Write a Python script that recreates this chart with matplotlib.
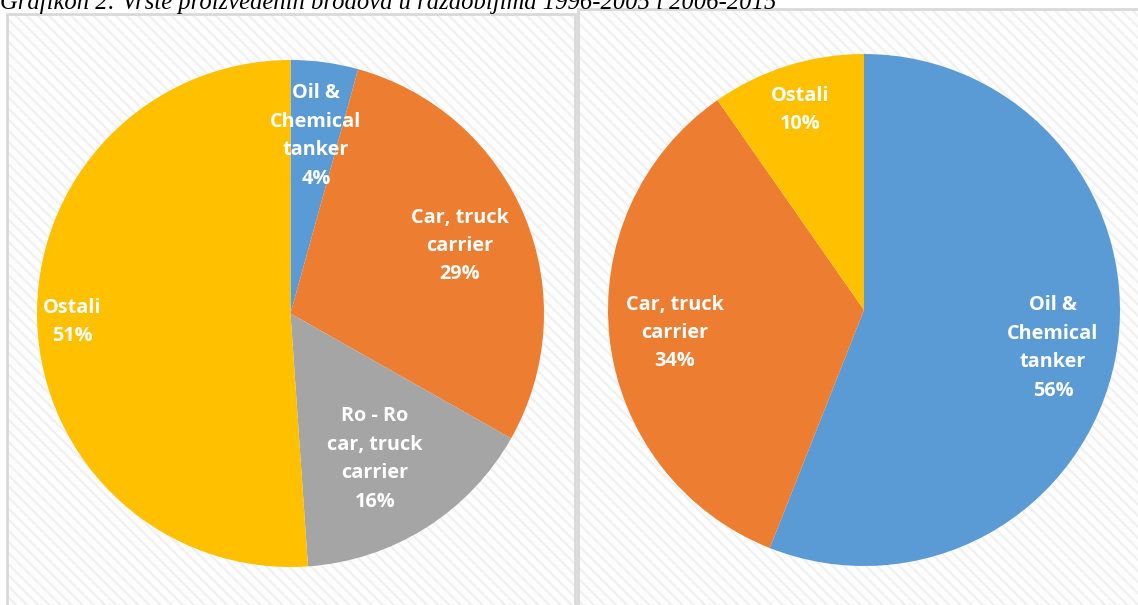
import matplotlib
matplotlib.use('Agg')
import matplotlib.pyplot as plt
from matplotlib.patches import Rectangle

# data
labels_a = ['Oil &\nChemical\ntanker', 'Car, truck\ncarrier', 'Ro - Ro\ncar, truck\ncarrier', 'Ostali']
pct_a = [4.3, 28.9, 15.7, 51.1]
shown_a = ['4%', '29%', '16%', '51%']

labels_b = ['Oil &\nChemical\ntanker', 'Car, truck\ncarrier', 'Ostali']
pct_b = [56.0, 34.3, 9.7]
shown_b = ['56%', '34%', '10%']

col_a = ['#5B9BD5', '#ED7D31', '#A5A5A5', '#FFC000']
col_b = ['#5B9BD5', '#ED7D31', '#FFC000']

W, H = 1138, 605
fig = plt.figure(figsize=(W / 100, H / 100), dpi=100)
plt.rcParams['hatch.linewidth'] = 1.5

def px(x0, y0, x1, y1):
    # pixel box -> figure fraction [l, b, w, h]
    return [x0 / W, 1 - y1 / H, (x1 - x0) / W, (y1 - y0) / H]

# hatched panel backgrounds
for box in [(7, 14, 575, 610), (578, 9, 1143, 610)]:
    l, b, w, h = px(*box)
    fig.patches.append(Rectangle((l, b), w, h, transform=fig.transFigure,
                                 facecolor='#FDFDFD', edgecolor='#F0F0F0',
                                 hatch='\\\\\\', lw=0, zorder=-2))
    fig.patches.append(Rectangle((l, b), w, h, transform=fig.transFigure,
                                 facecolor='none', edgecolor='#D9D9D9',
                                 lw=2, zorder=-1))

fig.text(0.0, 1 - 9 / H,
         'Grafikon 2: Vrste proizvedenih brodova u razdobljima 1996-2005 i 2006-2015',
         family='Liberation Serif', style='italic', fontsize=17.7, va='baseline', ha='left')

# label spots (pixel coords, Excel "best fit")
pos_a = [(316, 136), (460, 246), (375, 459), (72, 322)]
pos_b = [(1053, 348), (675, 333), (800, 110)]

def draw(box, vals, cols, names, shown, spots):
    ax = fig.add_axes(px(*box), zorder=2)
    ax.pie(vals, colors=cols, startangle=90, counterclock=False,
           wedgeprops=dict(linewidth=0))
    ax.set_xlim(-1, 1)
    ax.set_ylim(-1, 1)
    ax.set_aspect('equal')
    ax.axis('off')
    for nm, s, (x, y) in zip(names, shown, spots):
        fig.text(x / W, 1 - y / H, nm + '\n' + s, ha='center', va='center',
                 color='white', fontweight='bold', family='Open Sans',
                 fontsize=14.3, linespacing=1.56, zorder=5)

draw((37, 60, 544, 567), pct_a, col_a, labels_a, shown_a, pos_a)
draw((608, 54, 1120, 566), pct_b, col_b, labels_b, shown_b, pos_b)

fig.savefig('out.png', dpi=100)
